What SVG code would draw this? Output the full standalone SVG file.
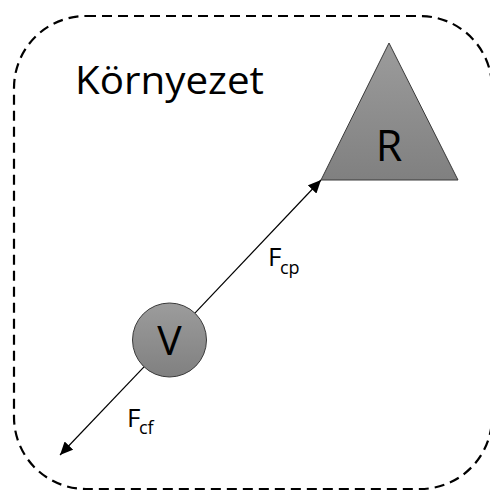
<svg xmlns="http://www.w3.org/2000/svg" width="490" height="491" viewBox="0 0 490 491">
<style>
.lbl{font-family:"Open Sans","Liberation Sans",sans-serif;fill:#000;}
.shape{stroke:#3a3a3a;stroke-width:1;}
.conn{stroke:#000;stroke-width:1.2;fill:none;}
</style>
<defs>
<linearGradient id="g" x1="0" y1="0" x2="0" y2="1">
<stop offset="0" stop-color="#9c9c9c"/>
<stop offset="1" stop-color="#808080"/>
</linearGradient>
<marker id="arr" markerUnits="userSpaceOnUse" markerWidth="14" markerHeight="12" refX="13" refY="6" orient="auto">
<path d="M0,0 L13,6 L0,12 Z" fill="#000"/>
</marker>
</defs>
<rect x="0" y="0" width="490" height="491" fill="#fff"/>
<g id="environment">
<rect x="14" y="16" width="478" height="473" rx="72" ry="72" fill="none" stroke="#000" stroke-width="2.2" stroke-dasharray="10,6"/>
<text class="lbl" x="75" y="94" font-size="38" textLength="189" lengthAdjust="spacingAndGlyphs">Környezet</text>
</g>
<g id="connectors">
<line class="conn" x1="194.9" y1="313.1" x2="321" y2="180" marker-end="url(#arr)"/>
<line class="conn" x1="144" y1="366.8" x2="60" y2="455" marker-end="url(#arr)"/>
<text class="lbl" x="268" y="266" font-size="26">F</text>
<text class="lbl" x="280" y="274" font-size="18">cp</text>
<text class="lbl" x="127" y="427" font-size="26">F</text>
<text class="lbl" x="139" y="434" font-size="18">cf</text>
</g>
<g id="R">
<polygon class="shape" points="389,43 321,180 458,180" fill="url(#g)"/>
<text class="lbl" x="389" y="161" font-size="43" text-anchor="middle">R</text>
</g>
<g id="V">
<circle class="shape" cx="169.5" cy="340" r="37" fill="url(#g)"/>
<text class="lbl" x="169.5" y="355" font-size="41" text-anchor="middle">V</text>
</g>
</svg>
